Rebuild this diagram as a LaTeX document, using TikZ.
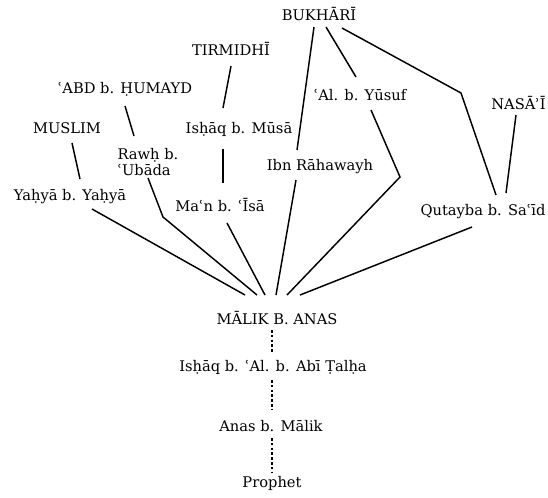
\documentclass[tikz,border=0pt]{standalone}
\usepackage{fontspec}
\setmainfont{DejaVu Serif}
\usepackage{tikz}
\usetikzlibrary{calc}
\tikzset{
  narrator/.style={inner sep=0pt,align=center,font=\fontsize{11}{12.5}\selectfont},
  compiler/.style={narrator},
  isnad/.style   ={line width=1.1pt,draw=black},
  gap/.style     ={line width=1pt,draw=black,dash pattern=on 2pt off 1.6pt}
}

\begin{document}
\begin{tikzpicture}[x=0.75pt,y=-0.75pt]
    \useasboundingbox (0,0) rectangle (548,497);
    % compilers
    \node[compiler] (bukh) at (319,14) {BUKHĀRĪ};
    \node[compiler] (tirm) at (231,49) {TIRMIDHĪ};
    \node[compiler] (abd) at (125,89) {ʿABD b. ḤUMAYD};
    \node[compiler] (muslim) at (67,128) {MUSLIM};
    \node[compiler,anchor=east] (nasai) at (546,103) {NASĀʾĪ};
    % students of Malik
    \node[narrator] (ali) at (360,95) {ʿAl. b. Yūsuf};
    \node[narrator] (ishm) at (239,129) {Isḥāq b. Mūsā};
    \node[narrator,align=left] (rawh) at (148,162) {Rawḥ b.\\ʿUbāda};
    \node[narrator] (ibnr) at (320,167) {Ibn Rāhawayh};
    \node[narrator] (yahya) at (70,197) {Yaḥyā b. Yaḥyā};
    \node[narrator] (maan) at (220,205) {Maʿn b. ʿĪsā};
    \node[narrator] (qut) at (483,212) {Qutayba b. Saʿīd};
    % common link and below
    \node[narrator] (malik) at (277,318) {MĀLIK B. ANAS};
    \node[narrator] (isht) at (273,367) {Isḥāq b. ʿAl. b. Abī Ṭalḥa};
    \node[narrator] (anas) at (271,426) {Anas b. Mālik};
    \node[narrator] (proph) at (272,483) {Prophet};
    % bends
    \coordinate (bqut) at (461,93);
    \coordinate (brawh) at (163,217);
    \coordinate (bali) at (400,177);
    % compilers to students
    \draw[isnad] ($(bukh)+(-5,13)$) -- ($(ibnr)+(-23,-17)$);
    \draw[isnad] ($(bukh)+(7,13)$) -- ($(ali)+(-4,-18)$);
    \draw[isnad] ($(bukh)+(23,14)$) -- (bqut) -- ($(qut)+(13,-17)$);
    \draw[isnad] ($(tirm)+(0,17)$) -- ($(ishm)+(-16,-21)$);
    \draw[isnad] ($(ishm)+(-16,20)$) -- ($(maan)+(3,-22)$);
    \draw[isnad] ($(abd)+(0,17)$) -- ($(rawh)+(-14,-26)$);
    \draw[isnad] ($(muslim)+(5,15)$) -- ($(yahya)+(10,-18)$);
    \draw[isnad] ($(nasai.east)+(-30,12)$) -- ($(qut)+(23,-19)$);
    % students to Malik
    \draw[isnad] ($(yahya)+(22,12)$) -- ($(malik)+(-32,-23)$);
    \draw[isnad] ($(rawh)+(0,16)$) -- (brawh) -- ($(malik)+(-20,-23)$);
    \draw[isnad] ($(maan)+(7,18)$) -- ($(malik)+(-12,-23)$);
    \draw[isnad] ($(ibnr)+(-24,13)$) -- ($(malik)+(-1,-23)$);
    \draw[isnad] ($(ali)+(11,15)$) -- (bali) -- ($(malik)+(10,-23)$);
    \draw[isnad] ($(qut)+(-11,15)$) -- ($(malik)+(23,-23)$);
    % single strand to the Prophet
    \draw[gap] ($(malik)+(-5,12)$) -- ($(isht)+(-1,-15)$);
    \draw[gap] ($(isht)+(-1,13)$) -- ($(anas)+(1,-16)$);
    \draw[gap] ($(anas)+(1,12)$) -- ($(proph)+(0,-11)$);
  \end{tikzpicture}
\end{document}
